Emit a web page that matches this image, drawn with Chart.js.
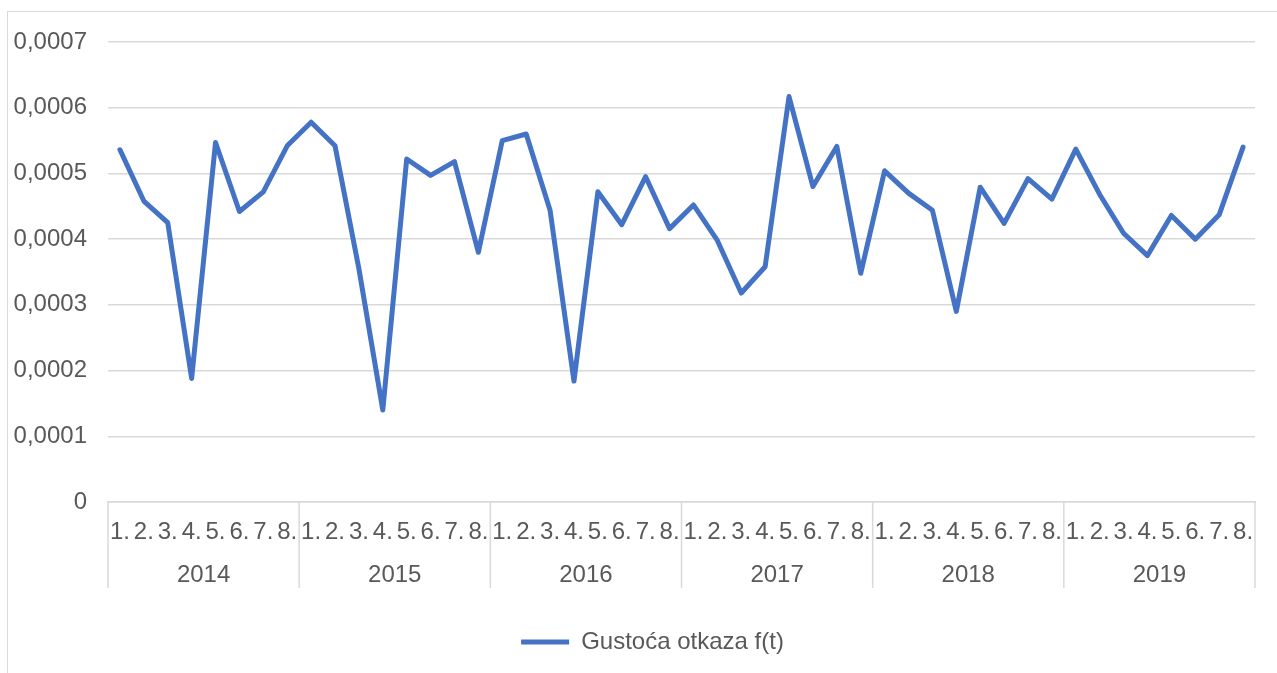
<!DOCTYPE html>
<html>
<head>
<meta charset="utf-8">
<title>Gustoća otkaza f(t)</title>
<script src="https://cdn.jsdelivr.net/npm/chart.js@4.4.1/dist/chart.umd.min.js"></script>
<style>
  html, body { margin: 0; padding: 0; background: #fff; overflow: hidden; }
  #frame { position: absolute; left: 7px; top: 11px; width: 1300px; height: 700px; border: 1px solid #d9d9d9; }
  #densityChart { position: absolute; left: 0; top: 0; }
</style>
</head>
<body>
<div id="frame"></div>
<canvas id="densityChart" width="1277" height="673"></canvas>
<script>
const years = ['2014', '2015', '2016', '2017', '2018', '2019'];
const months = ['1.', '2.', '3.', '4.', '5.', '6.', '7.', '8.'];
const yTickLabels = ['0', '0,0001', '0,0002', '0,0003', '0,0004', '0,0005', '0,0006', '0,0007'];

// f(t) per month (8 months per year)
const density2014 = [0.000536, 0.000458, 0.000425, 0.000188, 0.000547, 0.000442, 0.000472, 0.000542];
const density2015 = [0.000578, 0.000542, 0.000355, 0.000140, 0.000522, 0.000497, 0.000518, 0.000380];
const density2016 = [0.000550, 0.000560, 0.000444, 0.000184, 0.000472, 0.000422, 0.000495, 0.000416];
const density2017 = [0.000452, 0.000398, 0.000318, 0.000358, 0.000617, 0.000480, 0.000541, 0.000348];
const density2018 = [0.000504, 0.000470, 0.000444, 0.000290, 0.000479, 0.000424, 0.000492, 0.000461];
const density2019 = [0.000537, 0.000468, 0.000409, 0.000375, 0.000436, 0.000400, 0.000437, 0.000540];

const monthLabels = [];
years.forEach(() => months.forEach(m => monthLabels.push(m)));
const densityData = [].concat(density2014, density2015, density2016, density2017, density2018, density2019);

const textColor = '#595959';
const gridColor = '#d9d9d9';
const font = { family: 'Liberation Sans, Arial, sans-serif', size: 24 };

// vertical separators between year groups under the axis
const yearSeparators = {
    id: 'yearSeparators',
    beforeDraw(chart) {
        // legend sits a bit right of the centre in the original
        const lg = chart.legend;
        if (lg && !lg._shifted) {
            lg.left += 25;
            lg.right += 25;
            lg._shifted = true;
        }
    },
    afterDraw(chart) {
        const xs = chart.scales.x;
        const x2 = chart.scales.x2;
        const half = (xs.getPixelForValue(1) - xs.getPixelForValue(0)) / 2;
        const ctx = chart.ctx;
        ctx.save();
        ctx.strokeStyle = gridColor;
        ctx.lineWidth = 1.5;
        for (let k = 0; k <= years.length; k++) {
            const x = k < years.length
                ? xs.getPixelForValue(k * months.length) - half
                : xs.getPixelForValue(monthLabels.length - 1) + half;
            ctx.beginPath();
            ctx.moveTo(x, chart.chartArea.bottom);
            ctx.lineTo(x, x2.top + 41);
            ctx.stroke();
        }
        ctx.restore();
    }
};

const ctx = document.getElementById('densityChart').getContext('2d');
const densityChart = new Chart(ctx, {
    type: 'line',
    data: {
        labels: monthLabels,
        datasets: [{
            label: 'Gustoća otkaza f(t)',
            data: densityData,
            xAxisID: 'x',
            borderColor: '#4472c4',
            backgroundColor: '#4472c4',
            borderWidth: 5,
            borderCapStyle: 'round',
            borderJoinStyle: 'round',
            pointRadius: 0,
            tension: 0,
            fill: false
        }]
    },
    options: {
        responsive: false,
        devicePixelRatio: 1,
        animation: false,
        layout: { padding: { top: 42, left: 0, right: 22, bottom: 9 } },
        scales: {
            y: {
                min: 0,
                max: 0.0007,
                afterFit: (scale) => { scale.width = 108; },
                ticks: {
                    stepSize: 0.0001,
                    padding: 21,
                    color: textColor,
                    font: font,
                    callback: (value, index) => yTickLabels[index]
                },
                grid: { color: gridColor, lineWidth: 1.5, drawTicks: false },
                border: { display: false }
            },
            x: {
                type: 'category',
                labels: monthLabels,
                offset: true,
                afterFit: (scale) => { scale.height = 45; },
                ticks: {
                    autoSkip: false,
                    maxRotation: 0,
                    padding: 16,
                    color: textColor,
                    font: font
                },
                grid: { display: false, drawTicks: false },
                border: { display: true, color: gridColor, width: 1.5 }
            },
            x2: {
                type: 'category',
                position: 'bottom',
                labels: years,
                offset: true,
                afterFit: (scale) => { scale.height = 73; },
                ticks: {
                    autoSkip: false,
                    maxRotation: 0,
                    padding: 14,
                    color: textColor,
                    font: font
                },
                grid: { display: false, drawTicks: false },
                border: { display: false }
            }
        },
        plugins: {
            legend: {
                display: true,
                position: 'bottom',
                labels: {
                    color: textColor,
                    font: font,
                    usePointStyle: true,
                    pointStyle: 'line',
                    pointStyleWidth: 48,
                    padding: 10
                }
            },
            tooltip: { enabled: false }
        }
    },
    plugins: [yearSeparators]
});
</script>
</body>
</html>
